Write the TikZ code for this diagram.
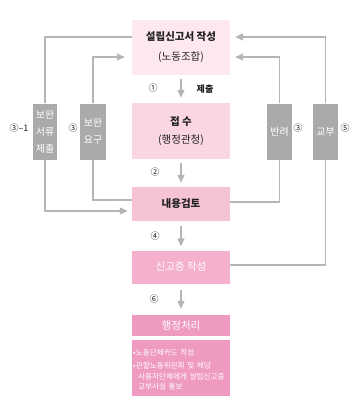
\documentclass[tikz,border=0pt]{standalone}
\usepackage{fontspec}
\setmainfont{Noto Sans CJK KR}
\usetikzlibrary{arrows.meta}
\definecolor{pk1}{HTML}{FDE8EF}
\definecolor{pk2}{HTML}{FAD5E3}
\definecolor{pk3}{HTML}{F6C2D6}
\definecolor{pk4}{HTML}{F4B0CC}
\definecolor{pk5}{HTML}{EF9AC1}
\definecolor{gbox}{HTML}{AAAAAA}
\definecolor{gline}{HTML}{B5B5B5}
\definecolor{txt}{HTML}{222222}
\tikzset{
  x=1pt,y=-1pt,
  mainbox/.style={draw=none,minimum width=98pt,inner sep=0pt,align=center,font=\fontsize{10.5pt}{12pt}\selectfont},
  graybox/.style={fill=gbox,draw=none,minimum height=56pt,inner sep=0pt,align=center,text=white,font=\fontsize{10pt}{17pt}\selectfont},
  conn/.style={draw=gline,line width=1.3pt},
  arr/.style={conn,-{Triangle[length=8pt,width=7pt]}},
  num/.style={inner sep=0pt,text=txt,font=\fontsize{9pt}{9pt}\selectfont},
}
\begin{document}
\begin{tikzpicture}
\useasboundingbox (0,0) rectangle (355,405);
\fill[white] (0,0) rectangle (355,405);
% main boxes
\node[mainbox,fill=pk1,minimum height=55pt,text=txt,font=\fontsize{10.5pt}{20pt}\selectfont] (b1) at (181,47.5) {\textbf{설립신고서 작성}\\(노동조합)};
\node[mainbox,fill=pk2,minimum height=56pt,text=txt,font=\fontsize{10.5pt}{18pt}\selectfont] (b2) at (181,131) {\textbf{접 수}\\(행정관청)};
\node[mainbox,fill=pk3,minimum height=34pt,text=txt] (b3) at (181,204) {\textbf{내용검토}};
\node[mainbox,fill=pk4,minimum height=33pt,text=white] (b4) at (181,267) {신고증 작성};
\node[mainbox,fill=pk5,minimum height=21pt,text=white] (b5) at (181,325.5) {행정처리};
\node[mainbox,fill=pk5,minimum height=56pt,text=white,align=left,anchor=north west,text width=96pt,inner xsep=1pt,font=\fontsize{7.6pt}{10.5pt}\selectfont] (b6) at (132,340) {\vphantom{가}\\[-8pt]•노동단체카드 작성\\[3pt]•관할노동위원회 및 해당\\\hspace*{5pt}사용자단체에게 설립신고증\\\hspace*{5pt}교부사실 통보};
% gray boxes
\node[graybox,minimum width=24pt] (g1) at (45,131.5) {보완\\서류\\제출};
\node[graybox,minimum width=26pt] (g2) at (93,131.5) {보완\\요구};
\node[graybox,minimum width=25pt] (g3) at (279.5,131.5) {반려};
\node[graybox,minimum width=25pt] (g4) at (325.5,131.5) {교부};
% vertical arrows
\draw[arr,shorten <=4pt,shorten >=5pt] (b1.south) -- (b2.north);
\draw[arr,shorten <=4pt,shorten >=4pt] (b2.south) -- (b3.north);
\draw[arr,shorten <=5pt,shorten >=4pt] (b3.south) -- (b4.north);
\draw[arr,shorten <=6pt,shorten >=6pt] (b4.south) -- (b5.north);
% numbers
\node[num] (n1) at (153,88) {①};
\node[num] (t1) at (205,89) {\textbf{제출}};
\node[num] (n2) at (155,172) {②};
\node[num] (n4) at (155,236) {④};
\node[num] (n6) at (154,299) {⑥};
\node[num] (n31) at (19,128) {③–1};
\node[num] (n3a) at (73,128) {③};
\node[num] (n3b) at (298,128) {③};
\node[num] (n5) at (345,128) {⑤};
% side connectors
\draw[conn] (g1.north) |- ([yshift=10.5pt]b1.west);
\draw[arr] (g2.north) |- ([xshift=-7pt,yshift=-9.5pt]b1.west);
\draw[arr] (g4.north) |- ([xshift=5pt,yshift=10.5pt]b1.east);
\draw[arr] (g3.north) |- ([xshift=5pt,yshift=-9.5pt]b1.east);
\draw[arr] (g1.south) |- ([xshift=-4pt,yshift=-7pt]b3.west);
\draw[conn] ([yshift=4pt]b3.west) -| (g2.south);
\draw[conn] ([yshift=2pt]b3.east) -| (g3.south);
\draw[conn] ([yshift=2pt]b4.east) -| (g4.south);
\end{tikzpicture}
\end{document}
